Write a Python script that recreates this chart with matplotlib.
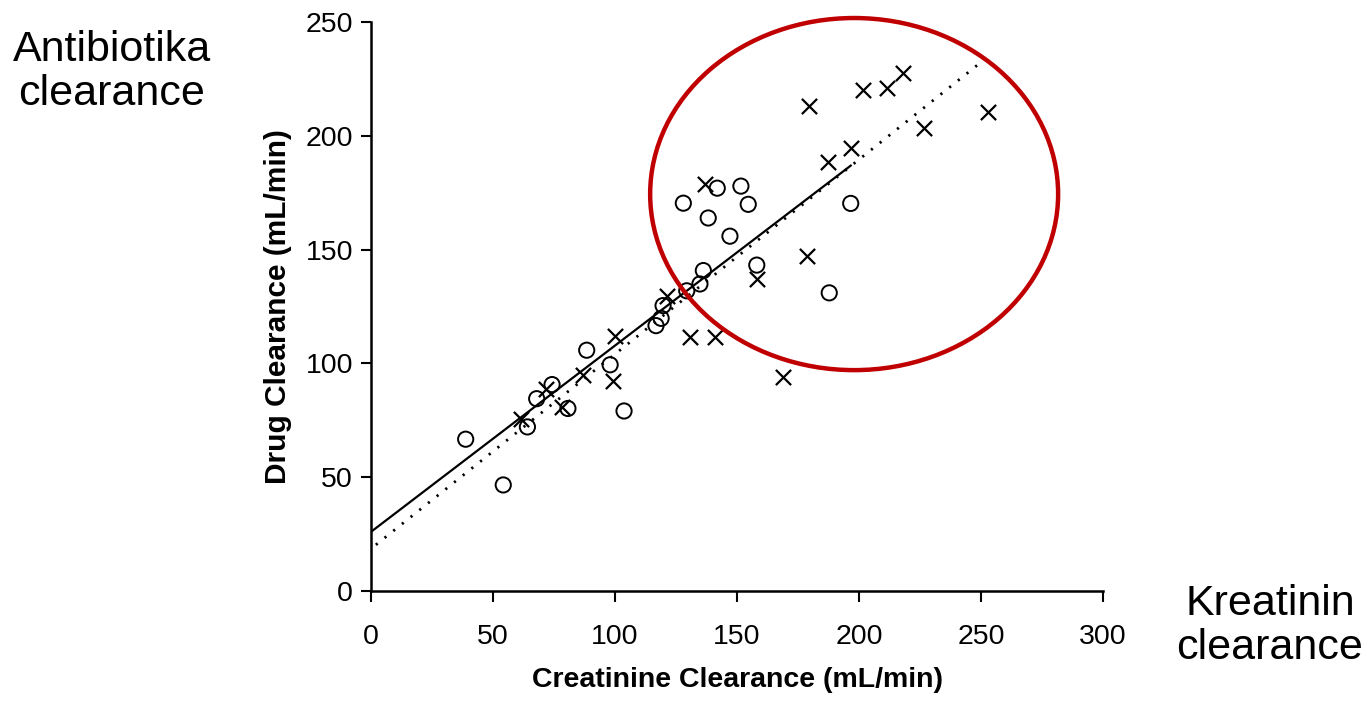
import numpy as np
import matplotlib
matplotlib.use("Agg")
import matplotlib.pyplot as plt
from matplotlib.patches import Ellipse

plt.rcParams['font.family'] = ['Liberation Sans', 'DejaVu Sans']

# Kreise (o)
circ_x = [38.8, 54.2, 64.1, 67.9, 74.2, 80.7, 88.4, 98.0, 103.7, 116.8, 118.9, 119.7,
          129.4, 134.8, 136.2, 128.0, 138.2, 141.9, 147.1, 151.6, 154.6, 158.1, 187.8, 196.6]
circ_y = [66.7, 46.6, 72.1, 84.5, 90.7, 80.2, 105.8, 99.4, 79.1, 116.6, 119.8, 125.4,
          131.9, 134.9, 140.8, 170.4, 163.9, 177.0, 155.9, 177.9, 169.9, 143.2, 131.0, 170.3]

# Kreuze (x)
cross_x = [61.5, 71.7, 78.2, 87.0, 100.0, 99.3, 121.2, 130.7, 141.0, 136.9, 158.1,
           178.6, 169.0, 179.5, 187.4, 196.6, 201.5, 211.5, 218.2, 226.6, 253.0]
cross_y = [75.7, 88.9, 81.0, 94.9, 111.9, 92.1, 129.7, 111.4, 111.5, 178.8, 137.3,
           147.3, 93.9, 212.9, 188.5, 194.7, 220.0, 221.0, 227.6, 203.3, 210.4]

# Regressionsgeraden (Start/Ende)
solid_x = [0, 196.6]
solid_y = [26.0, 186.9]
dotted_x = [2.0, 249.6]
dotted_y = [20.3, 232.0]

fig = plt.figure(figsize=(13.68, 7.01), dpi=100)
ax = fig.add_axes([0.2712, 0.1569, 0.5351, 0.8117])

ax.plot(solid_x, solid_y, color='black', linewidth=1.6)
ax.plot(dotted_x, dotted_y, color='black', linewidth=2.0, linestyle=(0, (0.8, 3.2)))

ax.scatter(circ_x, circ_y, s=120, facecolors='none', edgecolors='black', linewidths=1.4, zorder=3)
ax.scatter(cross_x, cross_y, s=120, marker='x', color='black', linewidths=1.6, zorder=3)

ax.set_xlim(0, 300)
ax.set_ylim(0, 250)
ax.set_xticks(np.arange(0, 301, 50))
ax.set_yticks(np.arange(0, 251, 50))
ax.spines['top'].set_visible(False)
ax.spines['right'].set_visible(False)
ax.spines['left'].set_linewidth(1.8)
ax.spines['bottom'].set_linewidth(1.8)
ax.tick_params(axis='y', direction='out', length=7, width=1.5, pad=6, labelsize=20.5)
ax.tick_params(axis='x', direction='out', length=8, width=1.5, pad=16, labelsize=20.5)

ax.set_xlabel("Creatinine Clearance (mL/min)", fontsize=20.5, fontweight='bold', labelpad=12)
ax.set_ylabel("Drug Clearance (mL/min)", fontsize=21.5, fontweight='bold', labelpad=10)

# roter Kreis
ell = Ellipse((198.0, 174.4), 167.2, 154.7, fill=False, edgecolor='#C00000',
              linewidth=3.2, clip_on=False, zorder=4)
ax.add_patch(ell)

fig.text(112 / 1368, 1 - 72 / 701, "Antibiotika\nclearance", fontsize=31,
         ha='center', va='center', linespacing=1.15)
fig.text(1270 / 1368, 1 - 626 / 701, "Kreatinin\nclearance", fontsize=31,
         ha='center', va='center', linespacing=1.15)

fig.savefig("out.png", dpi=100)
